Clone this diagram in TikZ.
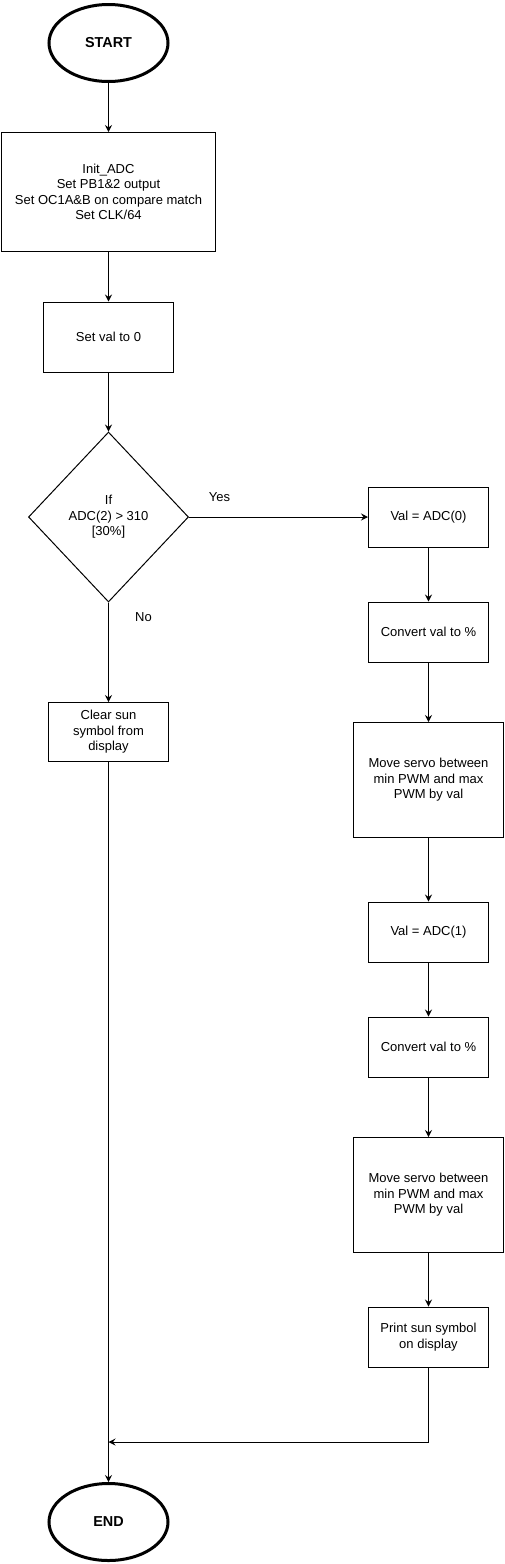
\documentclass[tikz,border=0pt]{standalone}
\usepackage{fontspec}
\setmainfont{Liberation Sans}
\usetikzlibrary{shapes.geometric,arrows.meta}

\begin{document}
\begin{tikzpicture}[
			x = 1pt, y = 1pt,
			> = {Stealth[length=7pt,width=7pt,inset=2.5pt]}, % arrow head style
			line width = 1pt, % line style
			font = \fontsize{13}{15.5}\selectfont,
			terminal/.style = {ellipse, draw, line width=3pt, minimum width=119pt, minimum height=77pt, font=\bfseries\fontsize{14.4}{16}\selectfont},
			proc/.style = {rectangle, draw, align=center, minimum width=120pt, minimum height=60pt, inner sep=2pt},
			decision/.style = {diamond, draw, align=center, minimum width=160pt, minimum height=170pt, inner sep=1pt}
			]
			
			\useasboundingbox (0,0) rectangle (504,-1564);
			
			\node[terminal] (start) at (108.5,-43) {START};
			\node[proc, minimum width=214pt, minimum height=119pt] (init) [below of=start, node distance=149pt] {Init\_ADC\\Set PB1\&2 output\\Set OC1A\&B on compare match\\Set CLK/64};
			\node[proc, minimum width=130pt, minimum height=70pt] (setval) [below of=init, node distance=145pt] {Set val to 0};
			\node[decision] (cond) [below of=setval, node distance=180pt] {If\\ADC(2) > 310\\{[30\%]}};
			\node[proc, minimum height=59pt] (clear) [below of=cond, node distance=215pt] {Clear sun\\symbol from\\display};
			\node[proc] (valA) [right of=cond, node distance=320pt] {Val = ADC(0)};
			\node[proc] (convA) [below of=valA, node distance=115pt] {Convert val to \%};
			\node[proc, minimum width=150pt, minimum height=115pt] (moveA) [below of=convA, node distance=148pt] {Move servo between\\min PWM and max\\PWM by val};
			\node[proc] (valB) [below of=moveA, node distance=152pt] {Val = ADC(1)};
			\node[proc] (convB) [below of=valB, node distance=115pt] {Convert val to \%};
			\node[proc, minimum width=150pt, minimum height=115pt] (moveB) [below of=convB, node distance=148pt] {Move servo between\\min PWM and max\\PWM by val};
			\node[proc] (print) [below of=moveB, node distance=142pt] {Print sun symbol\\on display};
			\node[terminal] (end) [below of=clear, node distance=790pt] {END};
			\coordinate (merge) at (108.5,-1442);
			
			\path[->]
			(start) 	edge (init)
			(init) 	edge (setval)
			(setval) 	edge (cond)
			(cond) 	edge node[pos=0.17, yshift=20pt] {Yes} (valA)
			edge node[pos=0.15, xshift=35pt] {No} (clear)
			(valA) 	edge (convA)
			(convA) 	edge (moveA)
			(moveA) 	edge (valB)
			(valB) 	edge (convB)
			(convB) 	edge (moveB)
			(moveB) 	edge (print)
			(clear) 	edge (end);
			
			\draw[->] (print) |- (merge);
			
		\end{tikzpicture}
\end{document}
